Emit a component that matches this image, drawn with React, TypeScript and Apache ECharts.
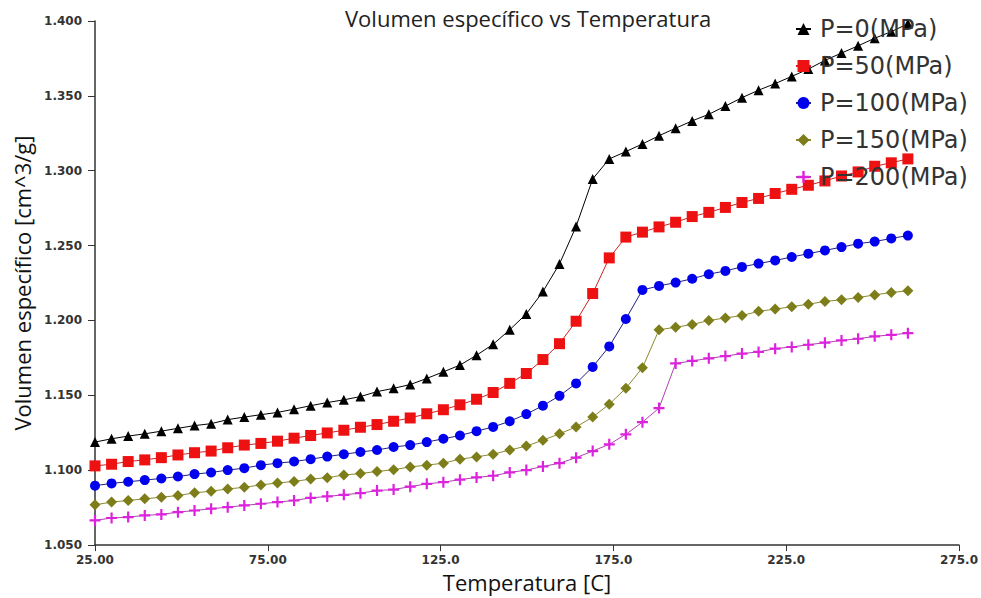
import React, { useEffect, useRef } from "react";
import * as echarts from "echarts";

const temperatures = [
  25.0, 29.8, 34.6, 39.4, 44.2, 49.0, 53.8, 58.6, 63.4, 68.2,
  73.0, 77.8, 82.6, 87.4, 92.2, 97.0, 101.8, 106.6, 111.4, 116.2,
  121.0, 125.8, 130.6, 135.4, 140.2, 145.0, 149.8, 154.6, 159.4, 164.2,
  169.0, 173.8, 178.6, 183.4, 188.2, 193.0, 197.8, 202.6, 207.4, 212.2,
  217.0, 221.8, 226.6, 231.4, 236.2, 241.0, 245.8, 250.6, 255.4, 260.2,
];

const p0 = [
  1.1188, 1.1210, 1.1228, 1.1243, 1.1261, 1.1280, 1.1298, 1.1311, 1.1338, 1.1355,
  1.1371, 1.1386, 1.1408, 1.1431, 1.1452, 1.1470, 1.1492, 1.1525, 1.1547, 1.1572,
  1.1613, 1.1657, 1.1702, 1.1768, 1.1841, 1.1938, 1.2044, 1.2193, 1.2378, 1.2628,
  1.2945, 1.3079, 1.3128, 1.3179, 1.3234, 1.3284, 1.3333, 1.3377, 1.3432, 1.3488,
  1.3538, 1.3582, 1.3630, 1.3679, 1.3737, 1.3786, 1.3834, 1.3885, 1.3929, 1.3981,
];

const p50 = [
  1.1029, 1.1040, 1.1058, 1.1069, 1.1084, 1.1102, 1.1117, 1.1128, 1.1150, 1.1168,
  1.1179, 1.1194, 1.1214, 1.1232, 1.1249, 1.1267, 1.1287, 1.1305, 1.1327, 1.1349,
  1.1377, 1.1404, 1.1437, 1.1474, 1.1519, 1.1580, 1.1646, 1.1739, 1.1845, 1.1995,
  1.2180, 1.2418, 1.2557, 1.2590, 1.2625, 1.2656, 1.2694, 1.2722, 1.2755, 1.2788,
  1.2815, 1.2848, 1.2876, 1.2903, 1.2932, 1.2965, 1.2992, 1.3030, 1.3053, 1.3079,
];

const p100 = [
  1.0897, 1.0912, 1.0923, 1.0934, 1.0945, 1.0958, 1.0974, 1.0985, 1.1001, 1.1014,
  1.1034, 1.1047, 1.1058, 1.1074, 1.1091, 1.1107, 1.1122, 1.1135, 1.1155, 1.1168,
  1.1188, 1.1210, 1.1232, 1.1261, 1.1289, 1.1327, 1.1375, 1.1431, 1.1497, 1.1580,
  1.1690, 1.1827, 1.2010, 1.2204, 1.2231, 1.2253, 1.2279, 1.2309, 1.2331, 1.2358,
  1.2380, 1.2401, 1.2424, 1.2446, 1.2468, 1.2490, 1.2513, 1.2527, 1.2548, 1.2567,
];

const p150 = [
  1.0769, 1.0787, 1.0798, 1.0809, 1.0820, 1.0831, 1.0849, 1.0860, 1.0875, 1.0886,
  1.0902, 1.0915, 1.0925, 1.0941, 1.0950, 1.0968, 1.0978, 1.0992, 1.1003, 1.1022,
  1.1034, 1.1047, 1.1074, 1.1089, 1.1107, 1.1135, 1.1161, 1.1201, 1.1243, 1.1289,
  1.1355, 1.1441, 1.1547, 1.1684, 1.1938, 1.1955, 1.1973, 1.2000, 1.2017, 1.2033,
  1.2061, 1.2076, 1.2092, 1.2109, 1.2127, 1.2138, 1.2153, 1.2171, 1.2187, 1.2198,
];

const p200 = [
  1.0665, 1.0681, 1.0687, 1.0698, 1.0705, 1.0720, 1.0731, 1.0743, 1.0753, 1.0765,
  1.0776, 1.0787, 1.0798, 1.0815, 1.0825, 1.0836, 1.0847, 1.0864, 1.0871, 1.0890,
  1.0909, 1.0920, 1.0937, 1.0952, 1.0963, 1.0985, 1.1001, 1.1025, 1.1047, 1.1084,
  1.1128, 1.1173, 1.1240, 1.1321, 1.1415, 1.1713, 1.1730, 1.1747, 1.1762, 1.1779,
  1.1790, 1.1812, 1.1823, 1.1838, 1.1852, 1.1867, 1.1878, 1.1894, 1.1904, 1.1915,
];

const seriesNames = ["P=0(MPa)", "P=50(MPa)", "P=100(MPa)", "P=150(MPa)", "P=200(MPa)"];

const PLUS =
  "path://M4,0 L6,0 L6,4 L10,4 L10,6 L6,6 L6,10 L4,10 L4,6 L0,6 L0,4 L4,4 Z";

export default function App() {
  const ref = useRef<HTMLDivElement>(null);

  useEffect(() => {
    if (!ref.current) return;
    const chart = echarts.init(ref.current, undefined, { renderer: "svg" });

    const pair = (ys: number[]) => temperatures.map((t, i) => [t, ys[i]]);

    const styles = [
      { data: p0, symbol: "triangle", size: 10, color: "#000000", line: "#000000" },
      { data: p50, symbol: "rect", size: 11, color: "#ee1111", line: "#cc2222" },
      { data: p100, symbol: "circle", size: 10, color: "#0000ee", line: "#202080" },
      { data: p150, symbol: "diamond", size: 11, color: "#7d7d1a", line: "#8a8a30" },
      { data: p200, symbol: PLUS, size: 11, color: "#dd22dd", line: "#b040b0" },
    ];

    chart.setOption({
      animation: false,
      backgroundColor: "#ffffff",
      title: {
        text: "Volumen específico vs Temperatura",
        left: 340,
        top: 2,
        textStyle: {
          fontFamily: "Open Sans",
          fontSize: 22,
          fontWeight: "normal",
          color: "#222222",
        },
      },
      legend: {
        orient: "vertical",
        left: 790,
        top: 6,
        itemWidth: 15,
        itemHeight: 15,
        itemGap: 1,
        data: seriesNames,
        textStyle: {
          fontFamily: "DejaVu Sans",
          fontSize: 24,
          lineHeight: 24,
          color: "#333333",
          padding: [0, 0, 12, 4],
        },
      },
      grid: { left: 95, right: 21, top: 21, bottom: 48, containLabel: false },
      xAxis: {
        type: "value",
        min: 25,
        max: 275,
        interval: 50,
        name: "Temperatura [C]",
        nameLocation: "middle",
        nameGap: 18,
        nameTextStyle: { fontFamily: "Open Sans", fontSize: 22, color: "#111111" },
        axisLine: { show: true, lineStyle: { color: "#333333", width: 1.5 } },
        axisTick: { show: true, length: 6, lineStyle: { color: "#333333" } },
        splitLine: { show: false },
        axisLabel: {
          margin: 9,
          fontFamily: "DejaVu Sans",
          fontSize: 12,
          fontWeight: "bold",
          color: "#333333",
          formatter: (v: number) => (v < 100 ? v.toFixed(2) : v.toFixed(1)),
        },
      },
      yAxis: {
        type: "value",
        min: 1.05,
        max: 1.4,
        interval: 0.05,
        name: "Volumen específico [cm^3/g]",
        nameLocation: "middle",
        nameRotate: 90,
        nameGap: 62,
        nameTextStyle: { fontFamily: "Open Sans", fontSize: 22, color: "#111111" },
        axisLine: { show: true, lineStyle: { color: "#333333", width: 1.5 } },
        axisTick: { show: true, length: 7, lineStyle: { color: "#333333" } },
        splitLine: { show: false },
        axisLabel: {
          margin: 13,
          fontFamily: "DejaVu Sans",
          fontSize: 12,
          fontWeight: "bold",
          color: "#333333",
          formatter: (v: number) => v.toFixed(3),
        },
      },
      series: styles.map((s, k) => ({
        name: seriesNames[k],
        type: "line",
        data: pair(s.data),
        symbol: s.symbol,
        symbolSize: s.size,
        showAllSymbol: true,
        itemStyle: { color: s.color },
        lineStyle: { color: s.line, width: 1 },
      })),
    });

    return () => chart.dispose();
  }, []);

  return (
    <div
      ref={ref}
      style={{ position: "fixed", left: 0, top: 0, width: 981, height: 598 }}
    />
  );
}
